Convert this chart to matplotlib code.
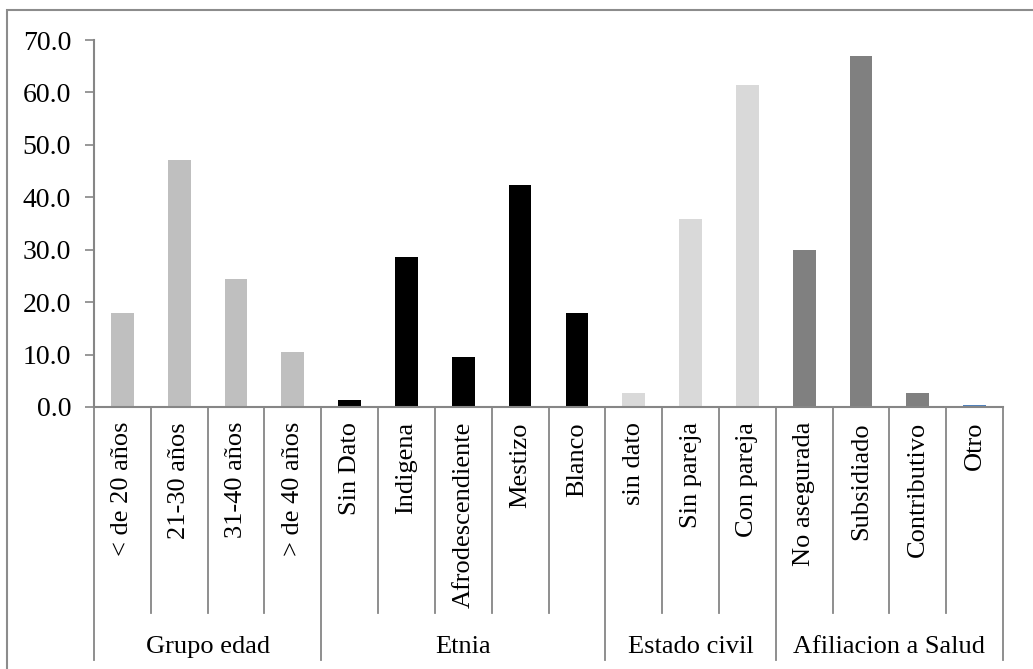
import matplotlib
matplotlib.use("Agg")
import matplotlib.pyplot as plt
from matplotlib.transforms import blended_transform_factory
from matplotlib.patches import Rectangle

plt.rcParams["font.family"] = ["Liberation Serif", "DejaVu Serif"]

# Data
groups = ["Grupo edad", "Etnia", "Estado civil", "Afiliacion a Salud"]
group_sizes = [4, 5, 3, 4]
categories = ["< de 20 años", "21-30 años", "31-40 años", "> de 40 años",
              "Sin Dato", "Indigena", "Afrodescendiente", "Mestizo", "Blanco",
              "sin dato", "Sin pareja", "Con pareja",
              "No asegurada", "Subsidiado", "Contributivo", "Otro"]
values = [18.0, 47.1, 24.4, 10.5,
          1.3, 28.6, 9.5, 42.3, 17.9,
          2.7, 35.9, 61.4,
          29.9, 66.9, 2.7, 0.4]
colors = ["#BFBFBF"] * 4 + ["#000000"] * 5 + ["#D9D9D9"] * 3 + ["#808080"] * 3 + ["#4F81BD"]
yticks = [0, 10, 20, 30, 40, 50, 60, 70]

W, H = 1033, 669
fig = plt.figure(figsize=(W / 100, H / 100), dpi=100)

def fy(px):
    return (H - px) / H

def fx(px):
    return px / W

axis_color = "#868686"
ax = fig.add_axes([fx(94), fy(407), fx(1003) - fx(94), fy(40) - fy(407)])

n = len(categories)
xs = [i + 0.5 for i in range(n)]
ax.bar(xs, values, width=0.4, color=colors, zorder=2)

ax.set_xlim(0, n)
ax.set_ylim(0, 70)
ax.set_yticks(yticks)
ax.set_yticklabels([f"{v:.1f}" for v in yticks], fontsize=20)
ax.tick_params(axis="y", length=6.5, color=axis_color, width=1.2, pad=10)
ax.set_xticks([])
for side in ["top", "right"]:
    ax.spines[side].set_visible(False)
for side in ["left", "bottom"]:
    ax.spines[side].set_color(axis_color)
    ax.spines[side].set_linewidth(1.5)

trans = blended_transform_factory(ax.transData, fig.transFigure)

# Category separators and group separators below the axis
group_edges = [0]
for s in group_sizes:
    group_edges.append(group_edges[-1] + s)

for b in range(n + 1):
    bottom = 660 if b in group_edges else 613
    ax.plot([b, b], [fy(407), fy(bottom)], transform=trans, color=axis_color,
            lw=1.3, clip_on=False, zorder=3)

# Category labels
for x, lab in zip(xs, categories):
    ax.text(x, fy(422), lab, transform=trans, rotation=90, ha="center", va="top",
            fontsize=19)

# Group labels
for g, name in enumerate(groups):
    cx = (group_edges[g] + group_edges[g + 1]) / 2
    ax.text(cx, fy(647), name, transform=trans, ha="center", va="center", fontsize=19)

# Outer frame
fig.patches.append(Rectangle((fx(7), fy(1100)), 2.0, fy(10) - fy(1100),
                             transform=fig.transFigure, fill=False,
                             edgecolor="#8C8C8C", lw=1.5))

fig.savefig("out.png", dpi=100)
